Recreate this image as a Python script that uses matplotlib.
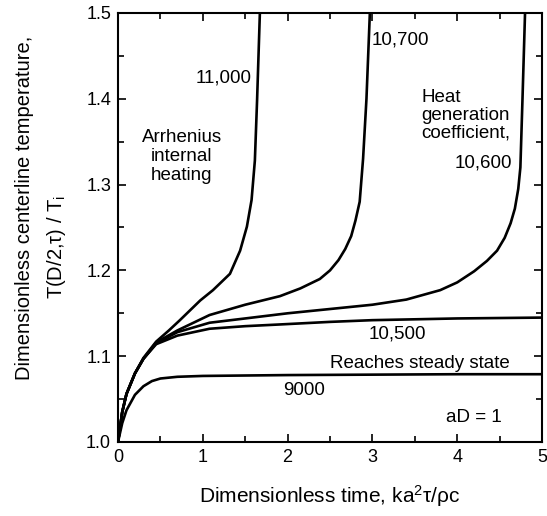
import matplotlib
matplotlib.use("Agg")
import matplotlib.pyplot as plt
from matplotlib.ticker import MultipleLocator

plt.rcParams['font.family'] = ['Liberation Sans', 'DejaVu Sans']
plt.rcParams['mathtext.fontset'] = 'custom'
plt.rcParams['mathtext.rm'] = 'Liberation Sans'
plt.rcParams['mathtext.it'] = 'Liberation Sans'

# curves: dimensionless time vs centerline temperature
t_9000 = [0, 0.05, 0.1, 0.2, 0.3, 0.4, 0.5, 0.7, 1.0, 2.0, 3.0, 4.0, 5.0]
T_9000 = [1.0, 1.022, 1.037, 1.055, 1.065, 1.071, 1.074, 1.076, 1.077, 1.078, 1.0785, 1.079, 1.079]

t_10500 = [0, 0.05, 0.1, 0.2, 0.3, 0.45, 0.7, 1.08, 1.5, 1.91, 2.5, 3.0, 4.0, 5.0]
T_10500 = [1.0, 1.035, 1.056, 1.08, 1.097, 1.114, 1.124, 1.132, 1.135, 1.137, 1.140, 1.142, 1.144, 1.145]

t_10600 = [0, 0.05, 0.1, 0.2, 0.3, 0.45, 0.7, 1.08, 1.5, 2.0, 2.5, 3.0, 3.4, 3.8, 4.0, 4.2,
           4.35, 4.47, 4.56, 4.63, 4.68, 4.72, 4.745, 4.77, 4.80]
T_10600 = [1.0, 1.035, 1.056, 1.08, 1.097, 1.115, 1.128, 1.139, 1.144, 1.150, 1.155, 1.160, 1.166,
           1.177, 1.186, 1.199, 1.211, 1.223, 1.238, 1.255, 1.272, 1.295, 1.32, 1.40, 1.50]

t_10700 = [0, 0.05, 0.1, 0.2, 0.3, 0.45, 0.7, 1.08, 1.5, 1.91, 2.15, 2.38, 2.5, 2.6, 2.68, 2.75,
           2.80, 2.85, 2.89, 2.93, 2.97]
T_10700 = [1.0, 1.035, 1.056, 1.08, 1.097, 1.116, 1.130, 1.148, 1.160, 1.170, 1.179, 1.190, 1.200,
           1.212, 1.225, 1.240, 1.258, 1.28, 1.33, 1.40, 1.50]

t_11000 = [0, 0.05, 0.1, 0.2, 0.3, 0.45, 0.6, 0.73, 0.97, 1.12, 1.32, 1.44, 1.52, 1.575, 1.614,
           1.64, 1.673]
T_11000 = [1.0, 1.035, 1.056, 1.08, 1.098, 1.117, 1.130, 1.142, 1.165, 1.177, 1.196, 1.223, 1.251,
           1.282, 1.328, 1.398, 1.50]

CURVES = [(t_9000, T_9000), (t_10500, T_10500), (t_10600, T_10600),
          (t_10700, T_10700), (t_11000, T_11000)]


def main():
    fig = plt.figure(figsize=(5.47, 5.16), dpi=100)
    ax = fig.add_axes([118 / 547, 1 - 442 / 516, 424 / 547, 429 / 516])

    for t, T in CURVES:
        ax.plot(t, T, color='black', lw=1.9, solid_joinstyle='round')

    ax.set_xlim(0, 5)
    ax.set_ylim(1.0, 1.5)
    ax.xaxis.set_major_locator(MultipleLocator(1))
    ax.xaxis.set_minor_locator(MultipleLocator(0.5))
    ax.yaxis.set_major_locator(MultipleLocator(0.1))
    ax.yaxis.set_minor_locator(MultipleLocator(0.05))
    ax.yaxis.set_major_formatter(plt.FuncFormatter(lambda v, p: f'{v:.1f}'))
    ax.tick_params(which='both', direction='in', top=True, right=True, labelsize=13, width=1.2)
    ax.tick_params(which='major', length=6, pad=5)
    ax.tick_params(which='minor', length=4)
    for s in ax.spines.values():
        s.set_linewidth(1.5)

    ax.set_xlabel('Dimensionless time, ka$^2$τ/ρc', fontsize=15, labelpad=12)
    fig.text(25 / 547, 1 - 208 / 516, 'Dimensionless centerline temperature,',
             rotation=90, ha='center', va='center', fontsize=14.5)
    fig.text(57 / 547, 1 - 247 / 516, 'T(D/2,τ) / T$_\\mathrm{i}$',
             rotation=90, ha='center', va='center', fontsize=14.5)

    fs = 13.5
    ax.text(1.58, 1.424, '11,000', ha='right', va='center', fontsize=fs)
    ax.text(0.75, 1.333, 'Arrhenius\ninternal\nheating', ha='center', va='center',
            fontsize=fs, linespacing=1.15)
    ax.text(2.99, 1.468, '10,700', ha='left', va='center', fontsize=fs)
    ax.text(3.58, 1.381, 'Heat\ngeneration\ncoefficient,', ha='left', va='center',
            fontsize=fs, linespacing=1.08)
    ax.text(4.65, 1.325, '10,600', ha='right', va='center', fontsize=fs)
    ax.text(3.29, 1.126, '10,500', ha='center', va='center', fontsize=fs)
    ax.text(3.56, 1.092, 'Reaches steady state', ha='center', va='center', fontsize=fs)
    ax.text(2.19, 1.060, '9000', ha='center', va='center', fontsize=fs)
    ax.text(4.20, 1.028, 'aD = 1', ha='center', va='center', fontsize=fs)

    fig.savefig('out.png', dpi=100)


if __name__ == '__main__':
    main()
